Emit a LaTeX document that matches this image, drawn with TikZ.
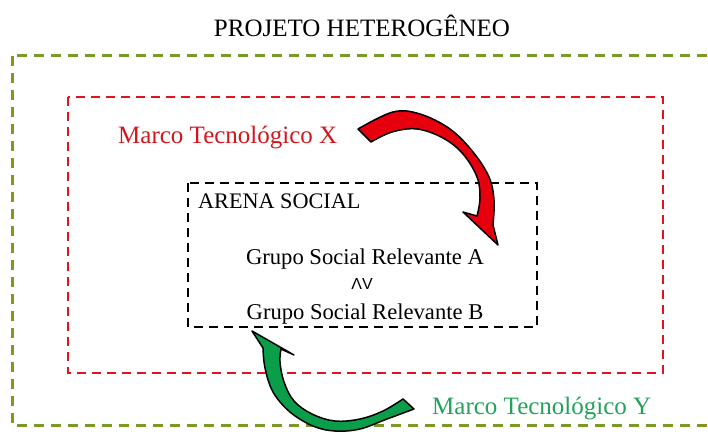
\documentclass[tikz,border=0pt]{standalone}
\usepackage{fontspec}
\setmainfont{Liberation Serif}
\newfontfamily\symfont{Liberation Sans}
\definecolor{oliveline}{HTML}{7A9A24}
\definecolor{redline}{HTML}{E0141E}
\definecolor{redtext}{HTML}{D2161E}
\definecolor{greentext}{HTML}{22A25A}
\definecolor{redfill}{HTML}{E6000E}
\definecolor{greenfill}{HTML}{0B9E4A}
\tikzset{
  outerbox/.style={draw=oliveline, line width=3pt, dash pattern=on 10pt off 7pt},
  midbox/.style={draw=redline, line width=2.8pt, dash pattern=on 9pt off 6pt},
  innerbox/.style={draw=black, line width=2.5pt, dash pattern=on 9pt off 6pt},
  bigarrow/.style={draw=black, line width=1.5pt, line join=round},
  lbl/.style={inner sep=0pt, anchor=base}
}
\begin{document}
\begin{tikzpicture}[x=1pt, y=-1pt]
\useasboundingbox (0,0) rectangle (708,435);
\fill[white] (0,0) rectangle (708,435);
\begin{scope}
\clip (0,0) rectangle (708,435);
\draw[outerbox] (12,56) rectangle (730,425);
\end{scope}
\draw[midbox] (68,97) rectangle (663,373);
\draw[innerbox] (188,183) rectangle (537,327);

\node[lbl, font=\fontsize{25}{28}\selectfont] (title) at (362,37) {PROJETO HETEROGÊNEO};
\node[lbl, anchor=base west, text=redtext, font=\fontsize{25}{28}\selectfont] (mx) at (118,144) {Marco Tecnológico X};
\node[lbl, anchor=base west, font=\fontsize{22.2}{26}\selectfont] (arena) at (198,209) {ARENA SOCIAL};
\node[lbl, font=\fontsize{22.6}{26}\selectfont] (ga) at (365,265) {Grupo Social Relevante A};
\node[lbl, font=\symfont\fontsize{16}{18}\selectfont] (sym) at (362,289) {ΛV};
\node[lbl, font=\fontsize{22.6}{26}\selectfont] (gb) at (365,319) {Grupo Social Relevante B};
\node[lbl, anchor=base west, text=greentext, font=\fontsize{25}{28}\selectfont] (my) at (432,414) {Marco Tecnológico Y};

% red curved arrow
\filldraw[bigarrow, fill=redfill]
  plot[smooth, tension=0.6] coordinates {(358,129) (393,112) (420,114) (450,129) (473,152) (489,177) (494,200) (493,225)}
  -- (498,245) -- (463,212) --
  plot[smooth, tension=0.6] coordinates {(477,216) (480,198) (477,177) (463,154) (443,138) (417,129) (392,132) (371,142)}
  -- cycle;

% green curved arrow
\filldraw[bigarrow, fill=greenfill]
  (252,331) --
  plot[smooth, tension=0.6] coordinates {(263,348) (265,368) (273,392) (290,412) (313,426) (335,431) (360,429) (387,419) (414,409)}
  -- (403,399) --
  plot[smooth, tension=0.6] coordinates {(403,399) (383,411) (360,419) (335,421) (312,414) (294,401) (284,382) (280,362) (281,349)}
  -- (294,355) -- cycle;
\end{tikzpicture}
\end{document}
